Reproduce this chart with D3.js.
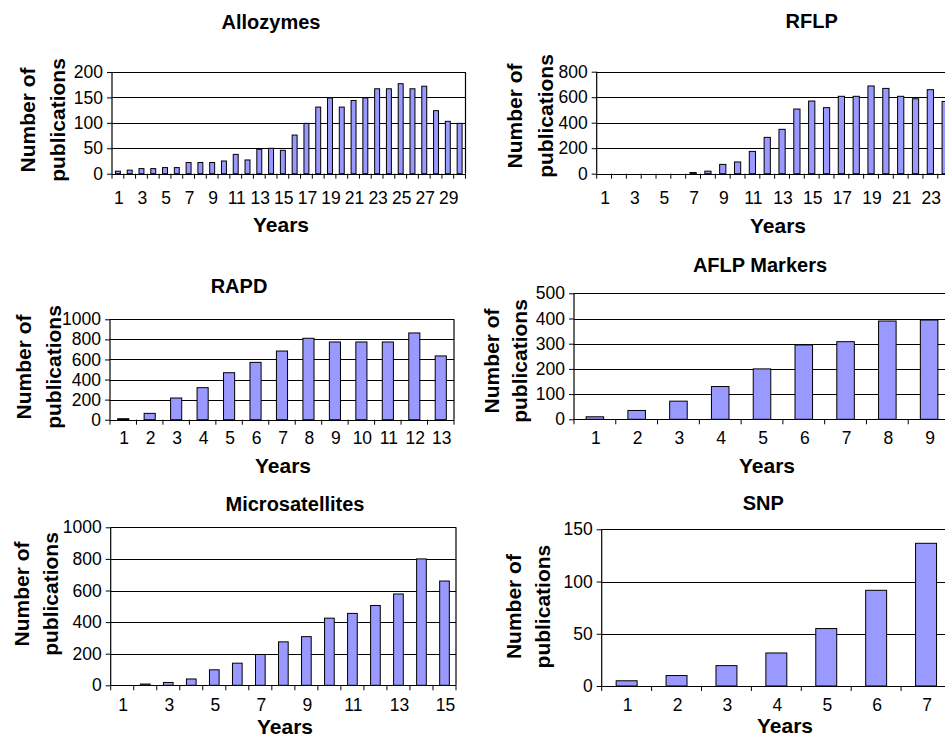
<!DOCTYPE html>
<html>
<head>
<meta charset="utf-8">
<script src="https://cdn.jsdelivr.net/npm/d3@7"></script>
<style>
  body { margin: 0; background: #fff; }
  svg { display: block; font-family: "Liberation Sans", Arial, sans-serif; }
</style>
</head>
<body>
<div id="main"></div>
<script>
// ===================== data =====================
var allozymesValues = [5, 7, 10, 10, 12, 12, 22, 22, 22, 25, 38, 27, 48, 50, 46, 76, 99, 131, 149, 131,
                       144, 149, 167, 167, 177, 167, 172, 124, 103, 99];
var rflpValues = [0, 0, 0, 0, 0, 0, 9, 20, 73, 92, 175, 285, 348, 507, 570, 518, 607, 607, 688, 669,
                  607, 588, 659, 567];
var rapdValues = [10, 63, 216, 319, 468, 571, 684, 811, 774, 774, 774, 864, 635];
var aflpValues = [10, 35, 72, 130, 200, 295, 308, 390, 394];
var microsatValues = [0, 8, 18, 40, 98, 140, 195, 275, 308, 425, 455, 505, 578, 800, 660];
var snpValues = [5, 10, 19.5, 31.6, 55, 91.6, 136.6];

// y axis ticks of each panel
var allozymesTicks = [0, 50, 100, 150, 200];
var rflpTicks = [0, 200, 400, 600, 800];
var rapdTicks = [0, 200, 400, 600, 800, 1000];
var aflpTicks = [0, 100, 200, 300, 400, 500];
var microsatTicks = [0, 200, 400, 600, 800, 1000];
var snpTicks = [0, 50, 100, 150];

const svgResolution = { width: 945, height: 739 };
const barFill = '#9999ff';
const fontTick = 17.5;
const fontLabel = 20;

// layout of the six panels
var panels = [
  { title: 'Allozymes', values: allozymesValues, ticks: allozymesTicks, every: 2,
    left: 112, right: 465.5, top: 72, bottom: 173.7,
    titleX: 271, titleY: 29, yearsX: 281, yearsY: 232, tickY: 204, ylabX: [27, 57], ylabY: 120 },
  { title: 'RFLP', values: rflpValues, ticks: rflpTicks, every: 2,
    left: 596.7, right: 952.6, top: 71.7, bottom: 173.7,
    titleX: 811.7, titleY: 28, yearsX: 778, yearsY: 233, tickY: 204, ylabX: [514, 545], ylabY: 116 },
  { title: 'RAPD', values: rapdValues, ticks: rapdTicks, every: 1,
    left: 110, right: 454, top: 319.3, bottom: 419.7,
    titleX: 239, titleY: 292.7, yearsX: 283, yearsY: 473, tickY: 444, ylabX: [23, 53], ylabY: 367 },
  { title: 'AFLP Markers', values: aflpValues, ticks: aflpTicks, every: 1,
    left: 574, right: 950, top: 293.3, bottom: 419.3,
    titleX: 760, titleY: 272, yearsX: 767, yearsY: 472.7, tickY: 444, ylabX: [491.7, 519], ylabY: 361 },
  { title: 'Microsatellites', values: microsatValues, ticks: microsatTicks, every: 2,
    left: 110.7, right: 456, top: 527.3, bottom: 685.3,
    titleX: 295, titleY: 510.7, yearsX: 285, yearsY: 734, tickY: 711, ylabX: [21.7, 50], ylabY: 594 },
  { title: 'SNP', values: snpValues, ticks: snpTicks, every: 1,
    left: 601.7, right: 951, top: 529.3, bottom: 686,
    titleX: 763.3, titleY: 510, yearsX: 785, yearsY: 733, tickY: 711, ylabX: [513.3, 542.7], ylabY: 606.6 }
];

// ===================== svg container =====================
const svg = d3.select('#main').append('svg')
  .attr('width', svgResolution.width)
  .attr('height', svgResolution.height);

panels.forEach(drawPanel);

// draw one small bar chart
function drawPanel(p) {
  var years = p.values.map((v, i) => i + 1);
  var yMax = p.ticks[p.ticks.length - 1];

  var x = d3.scaleBand()
    .domain(years)
    .range([p.left, p.right])
    .paddingInner(0.58)
    .paddingOuter(0.29);
  var step = x.step();

  var y = d3.scaleLinear()
    .domain([0, yMax])
    .range([p.bottom, p.top]);

  var g = svg.append('g');

  // gridlines + y axis
  var yAxis = d3.axisLeft(y)
    .tickValues(p.ticks)
    .tickSize(5)
    .tickPadding(4)
    .tickFormat(d3.format('d'));
  var ya = g.append('g')
    .attr('transform', 'translate(' + p.left + ',0)')
    .call(yAxis);
  ya.select('.domain').remove();
  ya.selectAll('.tick line').attr('stroke', '#000');
  ya.selectAll('.tick text')
    .attr('font-size', fontTick)
    .attr('font-family', '"Liberation Sans", Arial, sans-serif')
    .attr('fill', '#000');

  g.selectAll('line.grid')
    .data(p.ticks)
    .enter().append('line')
    .attr('class', 'grid')
    .attr('x1', p.left).attr('x2', p.right)
    .attr('y1', d => Math.round(y(d)) + 0.5)
    .attr('y2', d => Math.round(y(d)) + 0.5)
    .attr('stroke', '#000')
    .attr('stroke-width', 1.2);

  // bars
  g.selectAll('rect.bar')
    .data(p.values)
    .enter().append('rect')
    .attr('class', 'bar')
    .attr('x', (d, i) => x(years[i]))
    .attr('width', x.bandwidth())
    .attr('y', d => y(d))
    .attr('height', d => Math.max(0, y(0) - y(d)))
    .attr('fill', barFill)
    .attr('stroke', '#000')
    .attr('stroke-width', 1);

  // left axis line and right border
  g.append('line')
    .attr('x1', p.left).attr('x2', p.left)
    .attr('y1', p.top).attr('y2', p.bottom)
    .attr('stroke', '#000').attr('stroke-width', 1.2);
  g.append('line')
    .attr('x1', p.right).attr('x2', p.right)
    .attr('y1', p.top).attr('y2', p.bottom)
    .attr('stroke', '#000').attr('stroke-width', 1.2);

  // x ticks at category boundaries
  var bounds = d3.range(years.length + 1);
  g.selectAll('line.xtick')
    .data(bounds)
    .enter().append('line')
    .attr('class', 'xtick')
    .attr('x1', d => p.left + d * step).attr('x2', d => p.left + d * step)
    .attr('y1', p.bottom).attr('y2', p.bottom + 5)
    .attr('stroke', '#000');

  // x tick labels
  g.selectAll('text.xlab')
    .data(years.filter((d, i) => i % p.every === 0))
    .enter().append('text')
    .attr('class', 'xlab')
    .attr('x', d => x(d) + x.bandwidth() / 2 + 1)
    .attr('y', p.tickY)
    .attr('text-anchor', 'middle')
    .attr('font-size', fontTick)
    .text(d => d);

  // title
  g.append('text')
    .attr('x', p.titleX).attr('y', p.titleY)
    .attr('text-anchor', 'middle')
    .attr('font-size', fontLabel)
    .attr('font-weight', 'bold')
    .text(p.title);

  // x label
  g.append('text')
    .attr('x', p.yearsX).attr('y', p.yearsY)
    .attr('text-anchor', 'middle')
    .attr('font-size', fontLabel + 1)
    .attr('font-weight', 'bold')
    .text('Years');

  // y label, two lines
  ['Number of', 'publications'].forEach(function(t, i) {
    g.append('text')
      .attr('transform', 'translate(' + p.ylabX[i] + ',' + p.ylabY + ') rotate(-90)')
      .attr('text-anchor', 'middle')
      .attr('dominant-baseline', 'central')
      .attr('font-size', fontLabel + 1)
      .attr('font-weight', 'bold')
      .text(t);
  });
}
</script>
</body>
</html>
